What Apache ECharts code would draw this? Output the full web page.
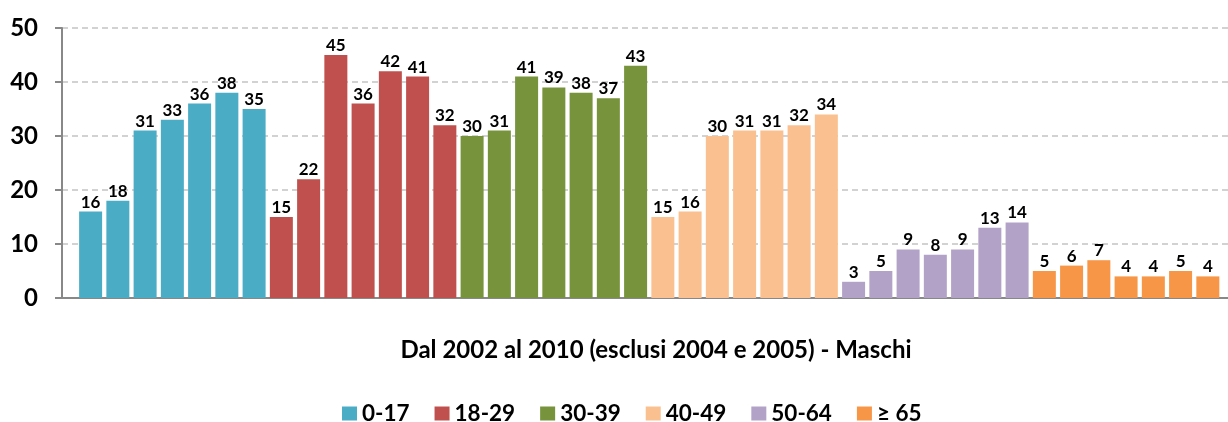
<!DOCTYPE html>
<html>
<head>
<meta charset="utf-8">
<style>
    html, body { margin: 0; padding: 0; background: #fff; }
    #chart { width: 1228px; height: 422px; }
</style>
<script src="https://cdn.jsdelivr.net/npm/echarts@6/dist/echarts.min.js"></script>
</head>
<body>
<div id="chart"></div>
<script>
// fasce d'età e valori per anno (2002, 2003, 2006, 2007, 2008, 2009, 2010)
var fasce = ['0-17', '18-29', '30-39', '40-49', '50-64', '≥ 65']
var colori = ['#4BACC6', '#C0504D', '#77933C', '#FAC090', '#B3A2C7', '#F79646']
var anni = ['2002', '2003', '2006', '2007', '2008', '2009', '2010']
var v0_17 = [16, 18, 31, 33, 36, 38, 35]
var v18_29 = [15, 22, 45, 36, 42, 41, 32]
var v30_39 = [30, 31, 41, 39, 38, 37, 43]
var v40_49 = [15, 16, 30, 31, 31, 32, 34]
var v50_64 = [3, 5, 9, 8, 9, 13, 14]
var v65 = [5, 6, 7, 4, 4, 5, 4]
var yTicks = [0, 10, 20, 30, 40, 50]

var font = 'Lato, "Open Sans", sans-serif'

;(function () {
    var gruppi = [v0_17, v18_29, v30_39, v40_49, v50_64, v65]
    // una barra per anno, in fila, colorata per fascia
    var dati = []
    gruppi.forEach(function (valori, g) {
        valori.forEach(function (v, a) {
            dati.push({
                value: [g * anni.length + a, v],
                itemStyle: { color: colori[g] }
            })
        })
    })

    // serie vuote solo per la legenda
    var serieLegenda = fasce.map(function (nome, g) {
        return { name: nome, type: 'line', data: [], itemStyle: { color: colori[g] } }
    })

    var myChart = echarts.init(document.getElementById('chart'))
    var option = {
        animation: false,
        textStyle: { fontFamily: font },
        title: {
            text: 'Dal 2002 al 2010 (esclusi 2004 e 2005) - Maschi',
            left: 651,
            textAlign: 'center',
            top: 333,
            textStyle: { fontFamily: font, fontSize: 24, fontWeight: 'bold', color: '#000' }
        },
        legend: {
            data: fasce,
            top: 397,
            left: 337,
            icon: 'rect',
            itemWidth: 15,
            itemHeight: 14,
            itemGap: 25,
            textStyle: { fontFamily: font, fontSize: 22.5, fontWeight: 'bold', color: '#000' }
        },
        grid: { left: 62, right: 0, top: 28, bottom: 124 },
        xAxis: {
            type: 'value',
            min: -1.05,
            max: 41.74,
            axisLabel: { show: false },
            axisTick: { show: false },
            splitLine: { show: false },
            axisLine: { show: true, onZero: false, lineStyle: { color: '#888', width: 2 } }
        },
        yAxis: {
            type: 'value',
            min: yTicks[0],
            max: yTicks[yTicks.length - 1],
            interval: 10,
            axisLine: { show: true, onZero: false, lineStyle: { color: '#888', width: 2 } },
            axisTick: { show: true, length: 7, lineStyle: { color: '#888', width: 2 } },
            axisLabel: { margin: 24, fontFamily: font, fontSize: 24, fontWeight: 'bold', color: '#000' },
            splitLine: { lineStyle: { color: '#c4c4c4', width: 1.5, type: [6, 4] } }
        },
        series: [{
            type: 'bar',
            barWidth: 23,
            data: dati,
            label: {
                show: true,
                position: 'top',
                distance: 1,
                fontFamily: font,
                fontSize: 17,
                fontWeight: 'bold',
                color: '#000',
                formatter: function (p) { return p.value[1] }
            }
        }].concat(serieLegenda)
    }
    myChart.setOption(option)
    window.addEventListener('resize', function () {
        myChart.resize()
    })
})()
</script>
</body>
</html>
